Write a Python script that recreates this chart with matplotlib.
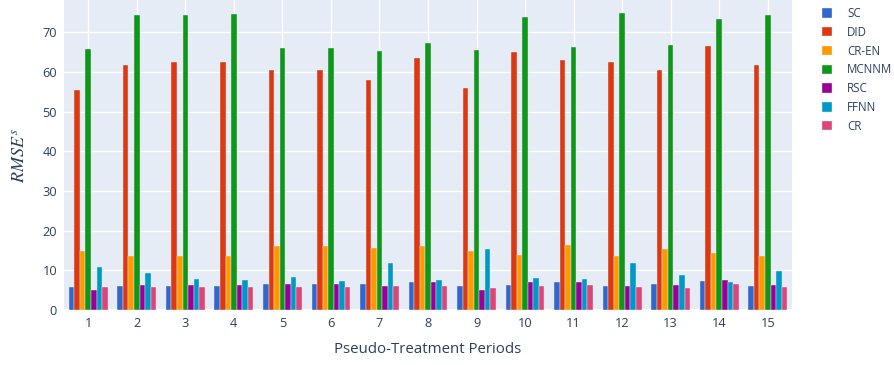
import matplotlib
matplotlib.use("Agg")
import matplotlib.pyplot as plt
import numpy as np

periods = [str(i) for i in range(1, 16)]
methods = ["SC", "DID", "CR-EN", "MCNNM", "RSC", "FFNN", "CR"]
colors = ["#3366CC", "#DC3912", "#FF9900", "#109618", "#990099", "#0099C6", "#DD4477"]

sc    = [5.9, 6.0, 6.0, 6.0, 6.6, 6.6, 6.6, 7.1, 6.1, 6.3, 7.1, 6.0, 6.6, 7.3, 6.0]
did   = [55.5, 61.6, 62.4, 62.4, 60.5, 60.5, 57.9, 63.5, 56.0, 65.0, 62.9, 62.4, 60.4, 66.4, 61.6]
cr_en = [14.9, 13.7, 13.7, 13.7, 16.0, 16.0, 15.5, 16.1, 14.9, 13.9, 16.3, 13.6, 15.3, 14.3, 13.6]
mcnnm = [65.7, 74.2, 74.4, 74.5, 66.1, 66.0, 65.2, 67.3, 65.5, 73.9, 66.3, 74.8, 66.7, 73.4, 74.2]
rsc   = [5.1, 6.3, 6.2, 6.2, 6.6, 6.6, 6.0, 7.0, 5.1, 7.0, 7.0, 6.1, 6.3, 7.5, 6.3]
ffnn  = [10.8, 9.3, 7.8, 7.5, 8.3, 7.3, 11.8, 7.5, 15.3, 8.1, 7.9, 11.8, 8.9, 7.1, 9.7]
cr    = [5.7, 5.8, 5.8, 5.8, 5.7, 5.7, 6.1, 6.1, 5.6, 6.1, 6.2, 5.8, 5.5, 6.6, 5.8]
series = [sc, did, cr_en, mcnnm, rsc, ffnn, cr]

text_color = "#2a3f5f"
bg = "#E5ECF6"

fig = plt.figure(figsize=(8.95, 3.65), dpi=100)
ax = fig.add_axes([64/895, 55/365, (792-64)/895, 310/365])
ax.set_facecolor(bg)

x = np.arange(len(periods))
n = len(methods)
bw = 0.8 / n
bars = []
for i, (m, vals, c) in enumerate(zip(methods, series, colors)):
    offs = (i - (n - 1) / 2) * bw
    b = ax.bar(x + offs, vals, width=bw, color=c, edgecolor=bg, linewidth=0.3, label=m, zorder=3)
    bars.append(b)

ax.set_xlim(-0.5, len(periods) - 0.5)
ax.set_ylim(0, 78.1)
ax.set_xticks(x)
ax.set_xticklabels(periods)
ax.set_yticks(np.arange(0, 80, 10))
ax.grid(True, color="white", linewidth=1, zorder=0)
ax.set_axisbelow(True)
ax.axhline(0, color="white", linewidth=2, zorder=1)
for s in ax.spines.values():
    s.set_visible(False)
ax.tick_params(length=0, colors=text_color, labelsize=9.2, pad=5)
for lbl in ax.get_xticklabels() + ax.get_yticklabels():
    lbl.set_fontfamily("Open Sans")

ax.set_xlabel("Pseudo-Treatment Periods", fontsize=10.8, color=text_color,
              fontfamily="Open Sans", labelpad=9)
plt.rcParams["mathtext.fontset"] = "stix"
fig.text(20/895, 1 - 156/365, r"$RMSE^s$", rotation=90, fontsize=13, color=text_color,
         ha="center", va="center")

leg = fig.legend(handles=bars, labels=methods, loc="upper left",
                 bbox_to_anchor=(822/895, 1 - 7/365), frameon=False, borderpad=0,
                 borderaxespad=0,
                 handlelength=0.87, handleheight=0.87, handletextpad=1.3,
                 labelspacing=0.5, prop={"family": "Open Sans", "size": 8.3})
for t in leg.get_texts():
    t.set_color(text_color)

fig.savefig("out.png", dpi=100)
